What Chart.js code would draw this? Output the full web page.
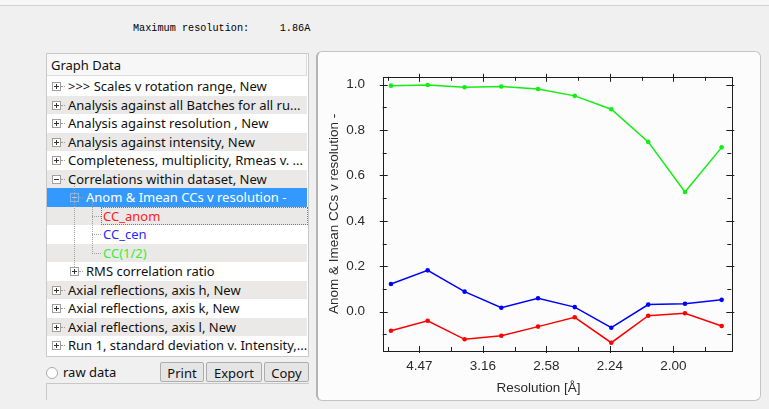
<!DOCTYPE html>
<html>
<head>
<meta charset="utf-8">
<script src="https://cdn.jsdelivr.net/npm/chart.js@4.4.1/dist/chart.umd.min.js"></script>
<style>
  body { margin:0; width:769px; height:409px; overflow:hidden; background:#f0f0f0; position:relative; font-family:"Noto Sans", "Open Sans", sans-serif; }
  .topline { position:absolute; left:0; top:0; width:769px; height:5px; background:#f7f7f7; border-bottom:1px solid #d2d2d2; }
  .maxres { position:absolute; left:133px; top:23px; font:10.2px "Courier New", "Liberation Mono", monospace; white-space:pre; color:#000; }
  .panel { position:absolute; left:46px; top:53px; width:261px; height:302px; border:1px solid #c9c9c9; background:#fff; overflow:hidden; }
  .head { position:absolute; left:0; top:0; width:260px; height:22px; background:#f7f7f7; border-bottom:1px solid #dcdcdc; border-right:1px solid #dcdcdc; font-size:13px; line-height:22px; padding-left:4px; box-sizing:border-box; color:#111; }
  .row { position:absolute; left:0; width:260px; height:18.5px; font-size:13px; line-height:18.5px; white-space:nowrap; color:#111; }
  .row span.t { position:absolute; top:0; }
  .gray { background:#eae9e7; }
  .sel { background:#3399ff; color:#fff; }
  .box { position:absolute; width:7px; height:7px; border:1px solid #a0a0a0; background:#fff; top:5px; }
  .box:before { content:""; position:absolute; left:1px; top:3px; width:5px; height:1px; background:#333; }
  .box.plus:after { content:""; position:absolute; left:3px; top:1px; width:1px; height:5px; background:#333; }
  .sel .box { background:#3399ff; border-color:#8ab8e6; }
  .sel .box:before { background:#a8cff5; }
  .hdot { position:absolute; top:9px; height:0; border-top:1px dotted #a0a0a0; }
  .vdot { position:absolute; width:0; border-left:1px dotted #a0a0a0; }
  .focus { position:absolute; top:0; height:16.5px; border:1px dotted #777; }
  .radio { position:absolute; left:46px; top:367px; width:10px; height:10px; border:1px solid #aaa; border-radius:50%; background:#fff; }
  .rlabel { position:absolute; left:63px; top:363px; font-size:13px; color:#111; }
  .btn { position:absolute; top:362px; height:20px; border:1px solid #adadad; border-radius:2px; background:#e5e5e5; font-size:13px; line-height:20px; text-align:center; color:#111; box-sizing:border-box; }
  .field { position:absolute; left:46px; top:383px; width:263px; height:17px; border:1px solid #c8c8c8; border-bottom:none; border-right:none; box-sizing:border-box; }
  .plot { position:absolute; left:316px; top:51px; width:445px; height:350px; box-sizing:border-box; border:1px solid #c4c4c4; border-left:2px solid #b4b4b4; border-radius:6px; background:#fcfcfc; }
  #chart { position:absolute; left:316px; top:51px; }
</style>
</head>
<body>
<div class="topline"></div>
<div class="maxres">Maximum resolution:     1.86A</div>

<div class="panel" id="panel">
  <div class="head">Graph Data</div>
</div>
<div class="radio"></div>
<div class="rlabel">raw data</div>
<div class="btn" style="left:160px;width:44px">Print</div>
<div class="btn" style="left:206px;width:56px">Export</div>
<div class="btn" style="left:264px;width:45px">Copy</div>
<div class="field"></div>

<div class="plot"></div>
<canvas id="chart" width="445" height="350"></canvas>

<script>
// tree entries in the left panel
const treeText = [
  '>>> Scales v rotation range, New',
  'Analysis against all Batches for all ru...',
  'Analysis against resolution , New',
  'Analysis against intensity, New',
  'Completeness, multiplicity, Rmeas v. ...',
  'Correlations within dataset, New',
  'Anom & Imean CCs v resolution -',
  'CC_anom',
  'CC_cen',
  'CC(1/2)',
  'RMS correlation ratio',
  'Axial reflections, axis h, New',
  'Axial reflections, axis k, New',
  'Axial reflections, axis l, New',
  'Run 1, standard deviation v. Intensity,...'
];
const treeLevel = [0, 0, 0, 0, 0, 0, 1, 2, 2, 2, 1, 0, 0, 0, 0];
const treeSign = ['+', '+', '+', '+', '+', '-', '-', '', '', '', '+', '+', '+', '+', '+'];
const treeColor = ['', '', '', '', '', '', '', '#ff1a1a', '#2a2aff', '#33ee33', '', '', '', '', ''];

// chart data: x is 1/d^2, labelled with resolution in A
const invResSq = [0.0277, 0.0566, 0.0857, 0.1146, 0.1435, 0.1724, 0.2012, 0.2303, 0.2592, 0.2881];
const ccAnom = [-0.084, -0.040, -0.122, -0.106, -0.066, -0.025, -0.137, -0.018, -0.007, -0.063];
const ccCen = [0.122, 0.182, 0.088, 0.017, 0.059, 0.020, -0.071, 0.031, 0.035, 0.052];
const ccHalf = [0.996, 0.999, 0.989, 0.992, 0.981, 0.951, 0.892, 0.748, 0.527, 0.724];
const xTicks = [0.05, 0.10, 0.15, 0.20, 0.25];
const xTickLabels = ['4.47', '3.16', '2.58', '2.24', '2.00'];
const xMinor = [0.025, 0.075, 0.125, 0.175, 0.225, 0.275];
const yTicks = [0.0, 0.2, 0.4, 0.6, 0.8, 1.0];
const yMinor = [-0.1, 0.1, 0.3, 0.5, 0.7, 0.9];

const panel = document.getElementById('panel');
const rowTop = 23, rowH = 18.5;
const boxX = [5, 23];
const textX = [21, 39, 56];

treeText.forEach((txt, i) => {
  const row = document.createElement('div');
  let cls = 'row';
  if (i === 6) cls += ' sel';
  else if (i % 2 === 1) cls += ' gray';
  row.className = cls;
  row.style.top = (rowTop + i * rowH) + 'px';
  const lv = treeLevel[i];
  if (treeSign[i]) {
    const b = document.createElement('div');
    b.className = 'box' + (treeSign[i] === '+' ? ' plus' : '');
    b.style.left = boxX[lv] + 'px';
    row.appendChild(b);
    const h = document.createElement('div');
    h.className = 'hdot';
    h.style.left = (boxX[lv] + 9) + 'px';
    h.style.width = (textX[lv] - boxX[lv] - 12) + 'px';
    row.appendChild(h);
  } else {
    const h = document.createElement('div');
    h.className = 'hdot';
    h.style.left = '45px';
    h.style.width = '9px';
    row.appendChild(h);
  }
  const t = document.createElement('span');
  t.className = 't';
  t.textContent = txt;
  t.style.left = textX[lv] + 'px';
  if (treeColor[i]) t.style.color = treeColor[i];
  row.appendChild(t);
  if (i === 7) {
    const f = document.createElement('div');
    f.className = 'focus';
    f.style.left = '54px';
    f.style.width = '205px';
    row.appendChild(f);
  }
  panel.appendChild(row);
});

// dotted connector lines
function vline(x, y1, y2) {
  const v = document.createElement('div');
  v.className = 'vdot';
  v.style.left = x + 'px';
  v.style.top = y1 + 'px';
  v.style.height = (y2 - y1) + 'px';
  panel.appendChild(v);
}
vline(27, rowTop + 5 * rowH + 14, rowTop + 10 * rowH + 5);
vline(45, rowTop + 6 * rowH + 14, rowTop + 9 * rowH + 10);

const axisFont = { family: '"Liberation Sans", Arial, sans-serif', size: 13.5 };
const textColor = '#2b2b2b';

const framePlugin = {
  id: 'frame',
  beforeDatasetsDraw(chart) {
    const { ctx, chartArea: a, scales } = chart;
    const xs = scales.x, ys = scales.y;
    ctx.save();
    ctx.strokeStyle = '#1e1e1e';
    ctx.lineWidth = 1;
    ctx.strokeRect(Math.round(a.left) + 0.5, Math.round(a.top) + 0.5,
      Math.round(a.right - a.left), Math.round(a.bottom - a.top));
    ctx.beginPath();
    xTicks.forEach(v => {
      const px = Math.round(xs.getPixelForValue(v)) + 0.5;
      ctx.moveTo(px, a.top - 3); ctx.lineTo(px, a.top + 5);
      ctx.moveTo(px, a.bottom + 2); ctx.lineTo(px, a.bottom - 5);
    });
    xMinor.forEach(v => {
      const px = Math.round(xs.getPixelForValue(v)) + 0.5;
      ctx.moveTo(px, a.top); ctx.lineTo(px, a.top + 4);
      ctx.moveTo(px, a.bottom); ctx.lineTo(px, a.bottom - 4);
    });
    yTicks.forEach(v => {
      const py = Math.round(ys.getPixelForValue(v)) + 0.5;
      ctx.moveTo(a.left - 3, py); ctx.lineTo(a.left + 5, py);
      ctx.moveTo(a.right + 3, py); ctx.lineTo(a.right - 5, py);
    });
    yMinor.forEach(v => {
      const py = Math.round(ys.getPixelForValue(v)) + 0.5;
      ctx.moveTo(a.left, py); ctx.lineTo(a.left + 4, py);
      ctx.moveTo(a.right, py); ctx.lineTo(a.right - 4, py);
    });
    ctx.stroke();
    ctx.restore();
  }
};

function series(ys) {
  return ys.map((y, i) => ({ x: invResSq[i], y: y }));
}

new Chart(document.getElementById('chart'), {
  type: 'line',
  data: {
    datasets: [
      { label: 'CC_anom', data: series(ccAnom), borderColor: '#ff0000', backgroundColor: '#ff0000' },
      { label: 'CC_cen', data: series(ccCen), borderColor: '#0000ff', backgroundColor: '#0000ff' },
      { label: 'CC(1/2)', data: series(ccHalf), borderColor: '#11ee11', backgroundColor: '#11ee11' }
    ]
  },
  options: {
    responsive: false,
    animation: false,
    layout: { padding: { top: 12.3, left: 0, right: 0, bottom: 0 } },
    elements: {
      line: { borderWidth: 1.5, tension: 0 },
      point: { radius: 2.3, borderWidth: 0, hoverRadius: 2.3 }
    },
    plugins: {
      legend: { display: false },
      tooltip: { enabled: false },
      title: {
        display: true, position: 'bottom', text: 'Resolution [Å]',
        font: Object.assign({ weight: 'normal' }, axisFont), color: textColor,
        padding: { top: 0, bottom: 5 }
      }
    },
    scales: {
      x: {
        type: 'linear', min: 0.0212, max: 0.2957,
        afterBuildTicks: s => { s.ticks = xTicks.map(v => ({ value: v })); },
        afterFit: s => { s.height = 28.8; },
        grid: { display: false, drawTicks: false },
        border: { display: false },
        ticks: { padding: 7.1, font: axisFont, color: textColor, maxRotation: 0,
          callback: (v, i) => xTickLabels[i] }
      },
      y: {
        type: 'linear', min: -0.1735, max: 1.035,
        afterBuildTicks: s => { s.ticks = yTicks.map(v => ({ value: v })); },
        afterFit: s => { s.width = 66.7; },
        grid: { display: false, drawTicks: false },
        border: { display: false },
        ticks: { padding: 17.7, font: axisFont, color: textColor,
          callback: v => v.toFixed(1) },
        title: { display: true, text: 'Anom & Imean CCs v resolution -',
          font: axisFont, color: textColor, padding: { top: 9.9, bottom: 0 } }
      },
      y2: {
        type: 'linear', position: 'right', display: true,
        afterFit: s => { s.width = 29.7; },
        grid: { display: false, drawTicks: false },
        border: { display: false },
        ticks: { display: false }
      }
    }
  },
  plugins: [framePlugin]
});
</script>
</body>
</html>
